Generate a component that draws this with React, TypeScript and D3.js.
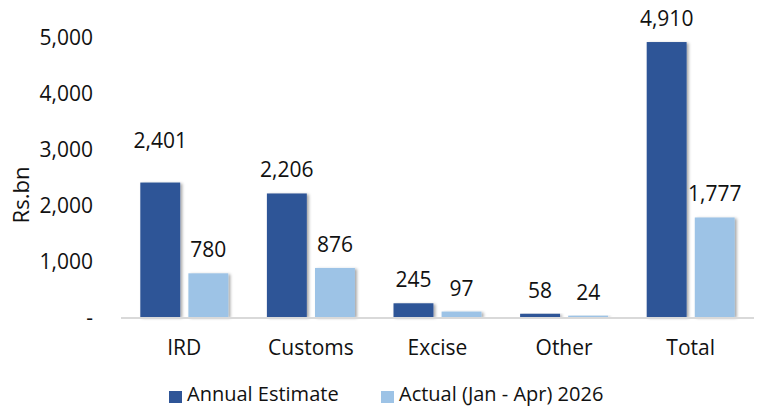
import React from 'react';
import * as d3 from 'd3';

const categories = ['IRD', 'Customs', 'Excise', 'Other', 'Total'];
const seriesNames = ['Annual Estimate', 'Actual (Jan - Apr) 2026'];
const annualEstimate = [2401, 2206, 245, 58, 4910];
const actual = [780, 876, 97, 24, 1777];
const yTicks = [0, 1000, 2000, 3000, 4000, 5000];

const colors = ['#2F5597', '#9DC3E6'];
const font = "'Open Sans', sans-serif";

export default function App() {
  const width = 765;
  const height = 406;
  const margin = { top: 37, left: 121, right: 11, baseline: 317 };

  const x = d3.scaleBand<string>()
    .domain(categories)
    .range([margin.left, width - margin.right]);

  const inner = d3.scaleBand<string>()
    .domain(seriesNames)
    .range([19.3, 107.3])
    .paddingInner(0.17);

  const y = d3.scaleLinear()
    .domain([0, 5000])
    .range([margin.baseline, margin.top]);

  const fmt = d3.format(',');
  const values = [annualEstimate, actual];

  // Excel pushed the IRD estimate label higher than the rest
  const extraLift = (s: number, i: number) => (s === 0 && i === 0 ? 19 : 0);

  return (
    <svg width={width} height={height} style={{ position: 'absolute', left: 0, top: 0 }}>
      <defs>
        <filter id="shadow" x="-20%" y="-20%" width="150%" height="150%">
          <feDropShadow dx="2" dy="1" stdDeviation="1.6" floodColor="#000" floodOpacity="0.35" />
        </filter>
      </defs>
      <rect width={width} height={height} fill="#fff" />

      {yTicks.map((t) => (
        <text key={t} x={93} y={y(t)} dy="0.36em" textAnchor="end"
          fontFamily={font} fontSize={21} fill="#111">
          {t === 0 ? '-' : fmt(t)}
        </text>
      ))}

      <text transform={`translate(21,195) rotate(-90)`}
        textAnchor="middle" dy="0.36em" fontFamily={font} fontSize={22} fill="#111">
        Rs.bn
      </text>

      {values.map((vals, s) =>
        vals.map((v, i) => {
          const bx = (x(categories[i]) as number) + (inner(seriesNames[s]) as number);
          return (
            <rect key={`${s}-${i}`} x={bx} y={y(v)} width={inner.bandwidth()}
              height={y(0) - y(v)} fill={colors[s]} filter="url(#shadow)" />
          );
        })
      )}

      <line x1={x.range()[0]} x2={x.range()[1]} y1={y(0) + 1} y2={y(0) + 1}
        stroke="#d9d9d9" strokeWidth={2} />

      {values.map((vals, s) =>
        vals.map((v, i) => {
          const cx = (x(categories[i]) as number) + (inner(seriesNames[s]) as number) + inner.bandwidth() / 2;
          return (
            <text key={`l${s}-${i}`} x={cx} y={y(v) - 16 - extraLift(s, i)}
              textAnchor="middle" fontFamily={font} fontSize={21} fill="#111">
              {fmt(v)}
            </text>
          );
        })
      )}

      {categories.map((c) => (
        <text key={c} x={(x(c) as number) + x.bandwidth() / 2} y={347} dy="0.36em"
          textAnchor="middle" fontFamily={font} fontSize={21} fill="#111">
          {c}
        </text>
      ))}

      {seriesNames.map((n, s) => {
        const lx = [169, 381][s];
        return (
          <g key={n}>
            <rect x={lx} y={391} width={13} height={12} fill={colors[s]} />
            <text x={lx + 18} y={401} fontFamily={font} fontSize={20} fill="#111">
              {n}
            </text>
          </g>
        );
      })}
    </svg>
  );
}
